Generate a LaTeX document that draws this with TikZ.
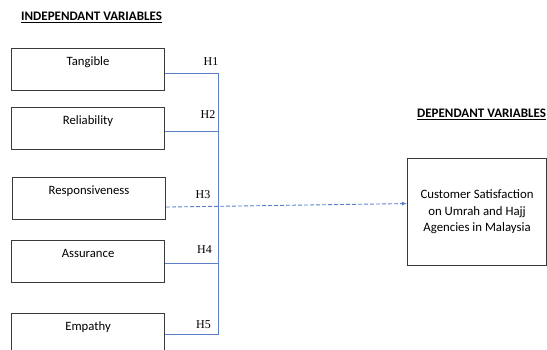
\documentclass[tikz,border=0pt]{standalone}
\usepackage{fontspec}
\setmainfont{Carlito}
\newfontfamily\hypfont{Liberation Serif}
\usetikzlibrary{calc,arrows.meta}
\definecolor{linkblue}{HTML}{5B80C8}
\definecolor{boxgray}{HTML}{3A3A3A}
\tikzset{
  varbox/.style={draw=boxgray, line width=1.1pt, anchor=north west,
    minimum width=153pt, inner xsep=0pt, inner ysep=4pt,
    text height=13pt, text depth=21pt, font=\fontsize{12.7}{14}\selectfont},
  depbox/.style={draw=boxgray, line width=1.1pt, anchor=north west,
    minimum width=139pt, minimum height=107pt, inner sep=0pt,
    align=center, font=\fontsize{12.8}{16.5}\selectfont},
  link/.style={draw=linkblue, line width=0.9pt},
  dashlink/.style={link, dash pattern=on 4pt off 2pt},
  hyp/.style={font=\hypfont\fontsize{12}{13}\selectfont, inner sep=0pt},
  head/.style={font=\bfseries\fontsize{13}{14}\selectfont, inner sep=0pt},
}
\begin{document}
\begin{tikzpicture}[x=1pt, y=-1pt]
\useasboundingbox (0,0) rectangle (547,349);

% column headings
\node[head, anchor=west] (ihead) at (21,17) {\underline{INDEPENDANT VARIABLES}};
\node[head, anchor=west] (dhead) at (417,114) {\underline{DEPENDANT VARIABLES}};

% independent variable boxes
\node[varbox] (tan) at (11,48)  {Tangible};
\node[varbox] (rel) at (11,107) {Reliability};
\node[varbox] (res) at (12,177) {Responsiveness};
\node[varbox] (ass) at (11,240) {Assurance};
\node[varbox] (emp) at (11,313) {Empathy};

% dependent variable box
\node[depbox] (dep) at (407,158) {\raisebox{5pt}{\begin{tabular}{@{}c@{}}Customer Satisfaction\\ on Umrah and Hajj\\ Agencies in Malaysia\end{tabular}}};

% collecting bus
\coordinate (c1) at ($(tan.east)+(0,4)$);
\coordinate (c2) at ($(rel.east)+(0,3)$);
\coordinate (c3) at ($(res.east)+(0,8.5)$);
\coordinate (c4) at ($(ass.east)+(0,2)$);
\coordinate (c5) at (emp.east);
\coordinate (bt) at (218,0);

\draw[link] (c1) -- (c1 -| bt) -- (c5 -| bt) -- (c5);
\draw[link] (c2) -- (c2 -| bt);
\draw[link] (c4) -- (c4 -| bt);
\coordinate (tip) at ($(dep.west)+(0,-8.5)$);
\draw[dashlink, -{Latex[length=5pt, width=4pt]}] (c3) -- (tip);

% hypothesis labels
\node[hyp] (h1) at (211,62)  {H1};
\node[hyp] (h2) at (208,115) {H2};
\node[hyp] (h3) at (203,195) {H3};
\node[hyp] (h4) at (204.5,250) {H4};
\node[hyp] (h5) at (203.5,325) {H5};
\end{tikzpicture}
\end{document}
